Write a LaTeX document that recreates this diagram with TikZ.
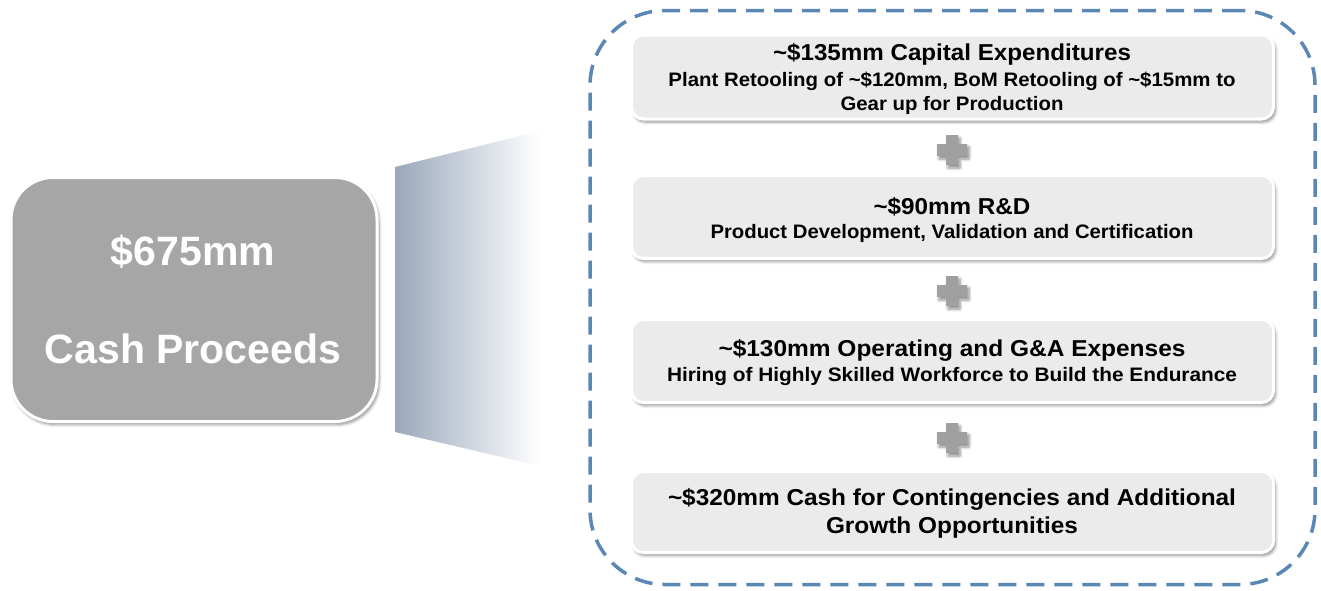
\documentclass[tikz,border=0pt]{standalone}
\usepackage{fontspec}
\setmainfont{Liberation Sans}
\usepackage{graphicx}
\usetikzlibrary{shadows.blur}
\definecolor{leftgray}{HTML}{A6A6A6}
\definecolor{boxfill}{HTML}{EBEBEB}
\definecolor{frameblue}{HTML}{5B87B4}
\definecolor{plusgray}{HTML}{A0A0A0}
\definecolor{fanblue}{HTML}{9AA8BC}
\newcommand{\wline}[3]{\resizebox{#1pt}{\height}{\fontsize{#2}{#2}\selectfont\bfseries #3}}
\tikzset{
  softshadow/.style={blur shadow={shadow xshift=2pt, shadow yshift=-3pt, shadow blur radius=3pt, shadow blur steps=6, shadow opacity=45}},
  bigbox/.style={draw=white, line width=3pt, fill=leftgray, rounded corners=42pt, softshadow, inner sep=0pt},
  itembox/.style={draw=white, line width=3pt, fill=boxfill, rounded corners=12pt, minimum width=642pt, softshadow, inner sep=0pt},
  frame/.style={draw=frameblue, line width=3.5pt, dash pattern=on 18pt off 10pt, rounded corners=75pt, inner sep=0pt, minimum width=725pt, minimum height=574pt},
  txt/.style={anchor=base, inner sep=0pt, text=black},
  wtxt/.style={anchor=base, inner sep=0pt, text=white},
  plussign/.pic={\fill[plusgray, softshadow] (-15,-6) -- (-6,-6) -- (-6,-15) -- (6,-15) -- (6,-6) -- (15,-6) -- (15,6) -- (6,6) -- (6,15) -- (-6,15) -- (-6,6) -- (-15,6) -- cycle;}
}
\begin{document}
\begin{tikzpicture}[x=1pt,y=-1pt]
\useasboundingbox (0,0) rectangle (1321,590);
% fan
\shade[left color=fanblue, right color=white] (395,167) -- (540,131) -- (540,466) -- (395,432) -- cycle;
% left box
\node[bigbox, minimum width=366pt, minimum height=244pt] (cash) at (194,299.5) {};
\node[wtxt] (cashA) at (193,265) {\fontsize{41}{41}\selectfont\bfseries \$675mm};
\node[wtxt] (cashB) at (193,363) {\fontsize{41}{41}\selectfont\bfseries Cash Proceeds};
% frame
\node[frame] (frame) at (952.5,297.5) {};
% boxes
\node[itembox, minimum height=84pt] (b1) at (952.5,77) {};
\node[itembox, minimum height=83pt] (b2) at (952.5,217) {};
\node[itembox, minimum height=83pt] (b3) at (952.5,361) {};
\node[itembox, minimum height=81pt] (b4) at (952.5,512) {};
% plus signs
\pic (p1) at (952,150) {plussign};
\pic (p2) at (952,291) {plussign};
\pic (p3) at (952,438) {plussign};
% texts
\node[txt] (b1a) at (952,60) {\wline{358}{23}{\textasciitilde\$135mm Capital Expenditures}};
\node[txt] (b1b) at (952,86) {\wline{567}{19.5}{Plant Retooling of \textasciitilde\$120mm, BoM Retooling of \textasciitilde\$15mm to}};
\node[txt] (b1c) at (952,110) {\wline{223}{19.5}{Gear up for Production}};
\node[txt] (b2a) at (952,214) {\wline{157}{23}{\textasciitilde\$90mm R\&D}};
\node[txt] (b2b) at (952,238) {\wline{483}{19.5}{Product Development, Validation and Certification}};
\node[txt] (b3a) at (952,356) {\wline{467}{23}{\textasciitilde\$130mm Operating and G\&A Expenses}};
\node[txt] (b3b) at (952,381) {\wline{570}{19.5}{Hiring of Highly Skilled Workforce to Build the Endurance}};
\node[txt] (b4a) at (952,505) {\wline{568}{23}{\textasciitilde\$320mm Cash for Contingencies and Additional}};
\node[txt] (b4b) at (952,533) {\wline{252}{23}{Growth Opportunities}};
\end{tikzpicture}
\end{document}
